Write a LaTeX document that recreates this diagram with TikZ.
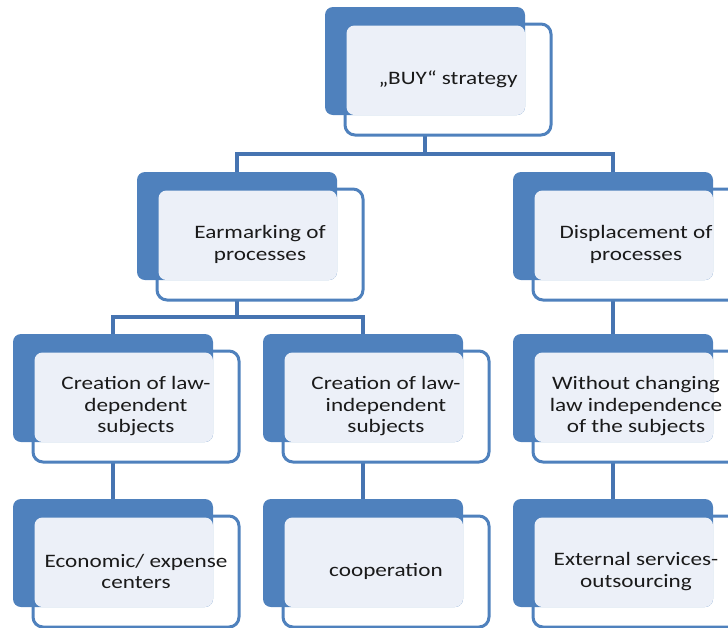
\documentclass[tikz,border=0pt]{standalone}
\usepackage{fontspec}
\setmainfont{Carlito}[FakeStretch=1.22]
\usetikzlibrary{calc,backgrounds}
\definecolor{accblue}{HTML}{4F81BD}
\definecolor{connblue}{HTML}{4674B1}
\definecolor{lightfill}{HTML}{ECF0F8}
\definecolor{txtcol}{HTML}{1A1A1A}
\tikzset{
  bluebox/.style={fill=accblue, draw=none, rounded corners=8pt, minimum width=200pt, minimum height=108pt, inner sep=0pt, outer sep=0pt, anchor=north west},
  outbox/.style={fill=white, draw=accblue, line width=3pt, rounded corners=10pt, minimum width=206pt, minimum height=111pt, inner sep=0pt, outer sep=0pt, anchor=north west},
  lightbox/.style={fill=lightfill, rounded corners=8pt},
  txt/.style={align=center, text=txtcol, font=\fontsize{19}{21.5}\selectfont, inner sep=0pt},
  conn/.style={draw=connblue, line width=4pt}
}
\newcommand\hierbox[4]{%
  \node[outbox] (#1o) at ($(#2,#3)+(20,17)$) {};
  \node[bluebox] (#1b) at (#2,#3) {};
  \fill[lightbox] ($(#1o.north west)+(1.5,1.5)$) rectangle (#1b.south east);
  \node[txt] (#1t) at (#1o.center) {#4};
}
\begin{document}
\begin{tikzpicture}[x=1pt,y=-1pt]
\useasboundingbox (0,0) rectangle (728,627);
\hierbox{top}{325}{7}{„BUY“ strategy}
\hierbox{ear}{137}{172}{Earmarking of\\processes}
\hierbox{dis}{513}{172}{Displacement of\\processes}
\hierbox{la}{13}{334}{Creation of law-\\dependent\\subjects}
\hierbox{lb}{263}{334}{Creation of law-\\independent\\subjects}
\hierbox{lc}{513}{334}{Without changing\\law independence\\of the subjects}
\hierbox{ma}{13}{499}{Economic/ expense\\centers}
\hierbox{mb}{263}{499}{cooperation}
\hierbox{mc}{513}{499}{External services-\\outsourcing}
\coordinate (bar1) at (0,154);
\coordinate (bar2) at (0,317);
\begin{pgfonlayer}{background}
\draw[conn] (topb.south) -- (topb.south |- bar1) -| (earb.north);
\draw[conn] (topb.south |- bar1) -| (disb.north);
\draw[conn] (earb.south) -- (earb.south |- bar2) -| (lab.north);
\draw[conn] (earb.south |- bar2) -| (lbb.north);
\draw[conn] (disb.south) -- (lcb.north);
\draw[conn] (lab.south) -- (mab.north);
\draw[conn] (lbb.south) -- (mbb.north);
\draw[conn] (lcb.south) -- (mcb.north);
\end{pgfonlayer}
\end{tikzpicture}
\end{document}
